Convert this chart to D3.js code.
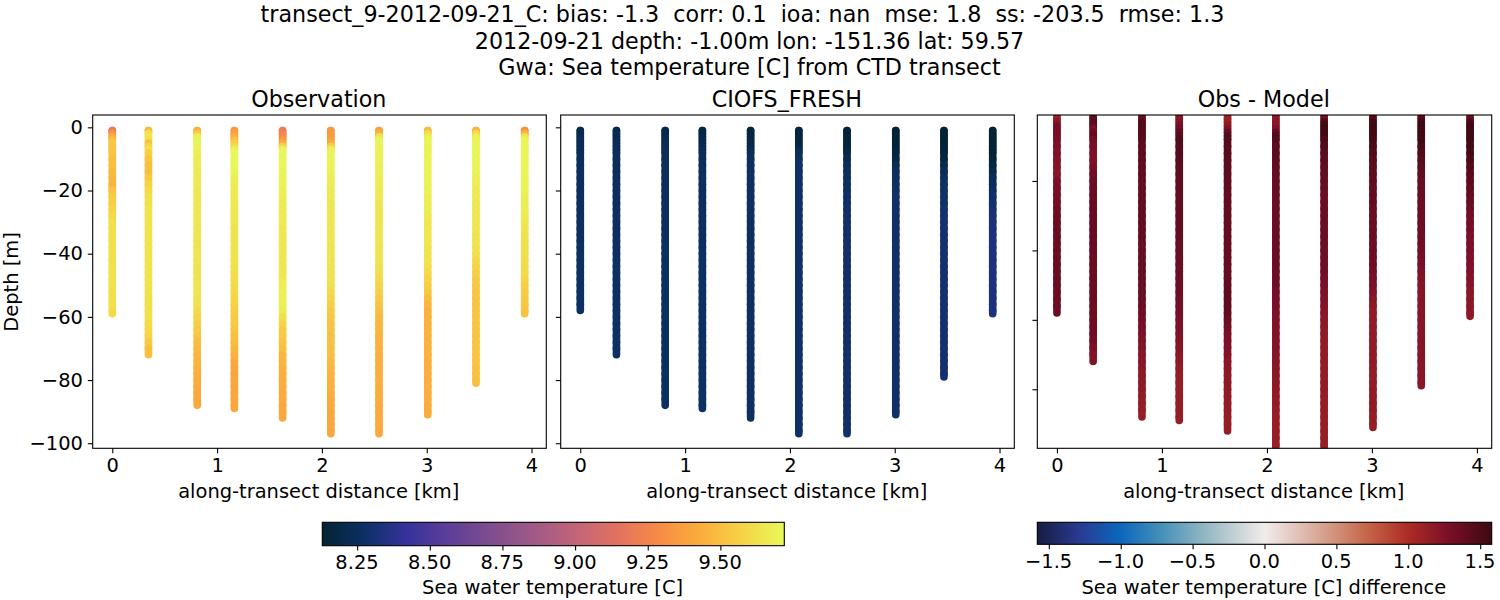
<!DOCTYPE html>
<html>
<head>
<meta charset="utf-8">
<script src="https://cdnjs.cloudflare.com/ajax/libs/d3/7.8.5/d3.min.js"></script>
<style>
  body { margin: 0; background: #fff; }
  text { font-family: "DejaVu Sans", sans-serif; fill: #000; }
</style>
</head>
<body>
<svg id="canvas" width="1500" height="600"></svg>
<script>
let titleLines = [
    "transect_9-2012-09-21_C: bias: -1.3  corr: 0.1  ioa: nan  mse: 1.8  ss: -203.5  rmse: 1.3",
    "2012-09-21 depth: -1.00m lon: -151.36 lat: 59.57",
    "Gwa: Sea temperature [C] from CTD transect"
]
let panelTitles = ["Observation", "CIOFS_FRESH", "Obs - Model"]

// along-transect distance of each station [km]
let stationKm = [0, 0.345, 0.81, 1.165, 1.625, 2.085, 2.545, 3.01, 3.47, 3.935]
let obsBottom = [59, 72, 88, 89, 92, 97, 97, 91, 81, 59]
let modelBottom = [58, 72, 88, 89, 92, 97, 97, 91, 79, 59]

// reading depths [m], the station bottom gets added per station
let readDepths = [1, 2, 3, 4, 5, 6, 7, 8, 10, 12, 14, 16, 18, 20, 22, 24, 26, 28, 30, 32, 34, 36, 38, 40,
    42, 44, 46, 48, 50, 52, 54, 56, 58, 60, 62, 64, 66, 68, 70, 72, 74, 76, 78, 80, 82, 84, 86, 88, 90, 92, 94, 96]

// temperature, one row per station
let obsTemp = [
    [8.95,9.2,9.32,9.42,9.5,9.53,9.53,9.52, 9.52,9.5,9.5,9.48,9.47,9.46,9.52,9.55,9.56,9.58, 9.6,9.62,9.62,9.63,9.63,9.63,9.63,9.63,9.63,9.64, 9.64,9.64,9.63,9.62,9.62, 9.6],
    [9.3,9.48,9.62,9.65,9.62,9.5,9.58,9.64, 9.56,9.52,9.5,9.5,9.54,9.58,9.6,9.62,9.63,9.64, 9.64,9.64,9.64,9.64,9.64,9.64,9.64,9.64,9.64,9.64, 9.64,9.64,9.63,9.63,9.62,9.62, 9.62,9.61,9.6,9.58,9.54,9.5],
    [9.42,9.45,9.55,9.68,9.7,9.7,9.7,9.7, 9.68,9.67,9.67,9.66,9.66,9.66,9.65,9.65,9.65,9.65, 9.65,9.65,9.65,9.64,9.64,9.64,9.64,9.64,9.64,9.64, 9.64,9.64,9.64,9.64,9.63,9.6,9.58,9.56,9.54,9.52, 9.5,9.48,9.47,9.46,9.45,9.44,9.43,9.42,9.41,9.41],
    [9.33,9.35,9.38,9.42,9.5,9.55,9.6,9.68, 9.71,9.71,9.71,9.7,9.68,9.67,9.66,9.66,9.65,9.65, 9.65,9.65,9.64,9.64,9.64,9.64,9.64,9.63,9.63,9.62, 9.62,9.61,9.6,9.58,9.57,9.56,9.55,9.54,9.52,9.5, 9.49,9.47,9.45,9.42,9.41,9.4,9.4,9.4,9.4,9.4, 9.4],
    [9.22,9.22,9.25,9.28,9.35,9.42,9.58,9.7, 9.71,9.71,9.71,9.7,9.7,9.69,9.68,9.67,9.66,9.66, 9.66,9.66,9.65,9.65,9.65,9.65,9.65,9.65,9.65,9.65, 9.66,9.67,9.68,9.68,9.68,9.67,9.62,9.58,9.55,9.54, 9.52,9.5,9.47,9.46,9.45,9.44,9.43,9.43,9.42,9.42, 9.41,9.41],
    [9.33,9.34,9.35,9.36,9.38,9.42,9.56,9.68, 9.7,9.7,9.7,9.69,9.68,9.67,9.66,9.66,9.65,9.65, 9.65,9.65,9.65,9.65,9.65,9.64,9.64,9.64,9.64,9.63, 9.63,9.62,9.6,9.58,9.56,9.54,9.53,9.52,9.52,9.51, 9.51,9.5,9.5,9.48,9.47,9.46,9.45,9.44,9.43,9.42, 9.42,9.41,9.41,9.41, 9.4],
    [9.35,9.38,9.45,9.64,9.7,9.7,9.7,9.7, 9.69,9.69,9.68,9.68,9.67,9.67,9.66,9.66,9.65,9.65, 9.65,9.65,9.65,9.65,9.65,9.64,9.64,9.64,9.63,9.62, 9.6,9.58,9.56,9.54,9.52,9.5,9.48,9.47,9.46,9.45, 9.45,9.44,9.44,9.44,9.44,9.44,9.44,9.43,9.43,9.43, 9.42,9.42,9.42,9.42, 9.41],
    [9.42,9.48,9.6,9.68,9.7,9.7,9.7,9.7, 9.7,9.7,9.7,9.7,9.7,9.69,9.69,9.68,9.68,9.67, 9.66,9.65,9.65,9.65,9.65,9.64,9.64,9.64,9.62,9.6, 9.58,9.56,9.54,9.5,9.47,9.45,9.45,9.45,9.45,9.45, 9.45,9.45,9.45,9.44,9.44,9.44,9.44,9.44,9.44,9.44, 9.43, 9.43],
    [9.38,9.45,9.6,9.68,9.7,9.7,9.7,9.7, 9.7,9.7,9.7,9.69,9.68,9.67,9.66,9.66,9.65,9.65, 9.65,9.65,9.65,9.64,9.64,9.63,9.62,9.6,9.58,9.56, 9.54,9.53,9.52,9.52,9.52,9.52,9.52,9.52,9.52,9.52, 9.52,9.52,9.52,9.52,9.51,9.51, 9.5],
    [9.25,9.3,9.45,9.64,9.7,9.7,9.7,9.7, 9.7,9.7,9.7,9.7,9.7,9.69,9.69,9.68,9.68,9.67, 9.66,9.65,9.64,9.63,9.62,9.62,9.62,9.61,9.6,9.6, 9.58,9.56,9.55,9.54,9.53, 9.52]
]

let modelTemp = [
    [8.19,8.2,8.21,8.22,8.23,8.23,8.24,8.24, 8.24,8.24,8.25,8.25,8.25,8.25,8.25,8.26,8.26,8.26, 8.26,8.26,8.26,8.26,8.26,8.27,8.27,8.27,8.27,8.27, 8.27,8.27,8.27,8.27,8.27],
    [8.19,8.2,8.21,8.22,8.22,8.23,8.23,8.24, 8.24,8.24,8.24,8.24,8.25,8.25,8.25,8.25,8.25,8.26, 8.26,8.26,8.26,8.26,8.26,8.26,8.26,8.27,8.27,8.27, 8.27,8.27,8.27,8.27,8.27,8.27, 8.27,8.27,8.27,8.27,8.27,8.27],
    [8.18,8.19,8.2,8.21,8.22,8.23,8.23,8.24, 8.24,8.25,8.25,8.25,8.25,8.25,8.26,8.26,8.26,8.26, 8.26,8.26,8.26,8.26,8.26,8.27,8.27,8.27,8.27,8.27, 8.27,8.27,8.27,8.27,8.27,8.27,8.27,8.27,8.27,8.27, 8.27,8.27,8.27,8.27,8.27,8.27,8.27,8.27,8.27,8.27],
    [8.16,8.17,8.18,8.19,8.2,8.21,8.22,8.23, 8.24,8.25,8.25,8.26,8.26,8.26,8.26,8.26,8.26,8.26, 8.26,8.26,8.26,8.26,8.26,8.27,8.27,8.27,8.27,8.27, 8.27,8.27,8.27,8.27,8.27,8.27,8.27,8.27,8.27,8.27, 8.27,8.27,8.27,8.27,8.27,8.27,8.27,8.27,8.27,8.27, 8.27],
    [8.15,8.16,8.16,8.17,8.18,8.19,8.2,8.22, 8.25,8.26,8.27,8.27,8.27,8.27,8.27,8.27,8.27,8.27, 8.27,8.26,8.26,8.26,8.26,8.27,8.27,8.27,8.27,8.27, 8.27,8.27,8.27,8.27,8.27,8.27,8.27,8.27,8.27,8.27, 8.27,8.27,8.27,8.27,8.27,8.27,8.27,8.27,8.27,8.27, 8.27,8.27],
    [8.15,8.15,8.16,8.16,8.17,8.17,8.18,8.2, 8.24,8.27,8.28,8.28,8.28,8.28,8.28,8.28,8.28,8.28, 8.28,8.28,8.28,8.28,8.28,8.28,8.28,8.28,8.28,8.28, 8.28,8.28,8.28,8.28,8.28,8.28,8.28,8.28,8.28,8.28, 8.28,8.28,8.28,8.28,8.28,8.28,8.28,8.28,8.28,8.28, 8.28,8.28,8.28,8.28, 8.28],
    [8.14,8.14,8.14,8.15,8.15,8.15,8.15,8.16, 8.19,8.22,8.25,8.26,8.27,8.28,8.28,8.28,8.29,8.29, 8.29,8.29,8.29,8.29,8.29,8.29,8.29,8.29,8.29,8.29, 8.29,8.29,8.29,8.29,8.29,8.29,8.29,8.29,8.29,8.29, 8.29,8.29,8.29,8.29,8.29,8.29,8.29,8.29,8.29,8.29, 8.29,8.29,8.29,8.29, 8.29],
    [8.14,8.14,8.14,8.14,8.14,8.14,8.14,8.15, 8.16,8.19,8.23,8.25,8.27,8.28,8.28,8.29,8.29,8.29, 8.29,8.29,8.29,8.29,8.29,8.29,8.29,8.29,8.29,8.29, 8.29,8.29,8.29,8.29,8.29,8.29,8.29,8.29,8.29,8.29, 8.29,8.29,8.29,8.29,8.29,8.29,8.29,8.29,8.29,8.29, 8.29, 8.29],
    [8.14,8.14,8.14,8.14,8.14,8.14,8.14,8.14, 8.15,8.18,8.21,8.24,8.26,8.28,8.29,8.29,8.29,8.3, 8.3,8.3,8.3,8.3,8.3,8.3,8.3,8.3,8.3,8.3, 8.3,8.3,8.3,8.3,8.3,8.3,8.3,8.3,8.3,8.3, 8.3,8.3,8.3,8.3,8.3, 8.3],
    [8.14,8.14,8.14,8.14,8.14,8.14,8.14,8.14, 8.14,8.15,8.17,8.2,8.23,8.25,8.27,8.28,8.3,8.31, 8.32,8.33,8.33,8.34,8.34,8.34,8.34,8.34,8.34,8.34, 8.34,8.34,8.34,8.34,8.34, 8.34]
]

let xTicks = [0, 1, 2, 3, 4]
let depthTicks = [0, -20, -40, -60, -80, -100]
let diffDepthTicks = [-20, -40, -60, -80]
let tempTicks = [8.25, 8.5, 8.75, 9, 9.25, 9.5]
let diffTicks = [-1.5, -1, -0.5, 0, 0.5, 1, 1.5]

let thermalColors = ["rgb(3,35,51)", "rgb(13,48,100)", "rgb(53,50,155)", "rgb(93,62,153)", "rgb(126,77,143)", "rgb(158,89,135)",
    "rgb(193,100,121)", "rgb(225,113,97)", "rgb(246,139,69)", "rgb(251,173,60)", "rgb(246,211,70)", "rgb(231,250,90)"]
let thermalOffsets = thermalColors.map((c, i) => i / 11)
let balanceColors = ["rgb(23,28,66)", "rgb(41,58,143)", "rgb(11,102,189)", "rgb(69,144,185)", "rgb(142,181,194)", "rgb(210,216,219)",
    "rgb(241,236,236)", "rgb(230,210,204)", "rgb(213,157,137)", "rgb(196,101,72)", "rgb(172,43,36)", "rgb(120,14,40)", "rgb(60,9,17)"]
// the pale middle colour sits halfway between the 6th and 7th of the eleven steps
let balanceOffsets = [0, 1 / 11, 2 / 11, 3 / 11, 4 / 11, 5 / 11, 0.5, 6 / 11, 7 / 11, 8 / 11, 9 / 11, 10 / 11, 1]

let tempRange = [8.13, 9.72]
let diffRange = [-1.58, 1.58]

let makeColor = (range, colors, offsets) => {
    let stops = offsets.map((t) => range[0] + (range[1] - range[0]) * t)
    return d3.scaleLinear().domain(stops).range(colors).clamp(true)
}
let tempColor = makeColor(tempRange, thermalColors, thermalOffsets)
let diffColor = makeColor(diffRange, balanceColors, balanceOffsets)

let canvas = d3.select("#canvas")

// depths of one station: the reading depths above the bottom, then the bottom
let depthsFor = (bottomDepth) => {
    let list = readDepths.filter((d) => d < bottomDepth)
    list.push(bottomDepth)
    return list
}

// each reading covers the stretch from the reading above it down to its own depth
let pointsFor = (bottoms, values) => {
    let points = []
    stationKm.forEach((km, s) => {
        let depths = depthsFor(bottoms[s])
        depths.forEach((d, i) => {
            points.push({km: km, from: depths[Math.max(i - 1, 0)], depth: d, value: values(s, d, i)})
        })
    })
    return points
}

let obsPoints = pointsFor(obsBottom, (s, d, i) => obsTemp[s][i])
let modelPoints = pointsFor(modelBottom, (s, d, i) => modelTemp[s][i])
let diffPoints = pointsFor(modelBottom, (s, d, i) => {
    let obsDepths = depthsFor(obsBottom[s])
    return obsTemp[s][d3.bisectLeft(obsDepths, d)] - modelTemp[s][i]
})

let plotTop = 115
let plotBottom = 448.3
let labelSize = '19.44px'
let titleSize = '22.22px'

let panels = [
    {left: 92.7, right: 546.3, points: obsPoints, color: tempColor, yDomain: [3.9, -101.6], yTicks: depthTicks, labels: true},
    {left: 560.7, right: 1014.3, points: modelPoints, color: tempColor, yDomain: [3.9, -101.6], yTicks: depthTicks, labels: false},
    {left: 1037.3, right: 1491.7, points: diffPoints, color: diffColor, yDomain: [-1, -97], yTicks: diffDepthTicks, labels: false}
]

let styleAxis = (g) => {
    g.selectAll('line').attr('stroke', '#000').attr('stroke-width', 1.1)
    g.selectAll('text').style('font-size', labelSize)
}

let drawPanel = (panel, i) => {
    let xScale = d3.scaleLinear().domain([-0.187, 4.141]).range([panel.left, panel.right])
    let yScale = d3.scaleLinear().domain(panel.yDomain).range([plotTop, plotBottom])
    let middle = (panel.left + panel.right) / 2 - 0.7

    canvas.append('clipPath')
            .attr('id', 'clip' + i)
            .append('rect')
            .attr('x', panel.left)
            .attr('y', plotTop)
            .attr('width', panel.right - panel.left)
            .attr('height', plotBottom - plotTop)

    canvas.append('g')
            .attr('clip-path', 'url(#clip' + i + ')')
            .selectAll('line')
            .data(panel.points)
            .enter()
            .append('line')
            .attr('x1', (p) => xScale(p.km))
            .attr('x2', (p) => xScale(p.km))
            .attr('y1', (p) => yScale(-p.from))
            .attr('y2', (p) => yScale(-p.depth))
            .attr('stroke', (p) => panel.color(p.value))
            .attr('stroke-width', 7.6)
            .attr('stroke-linecap', 'round')

    canvas.append('rect')
            .attr('x', panel.left)
            .attr('y', plotTop)
            .attr('width', panel.right - panel.left)
            .attr('height', plotBottom - plotTop)
            .attr('fill', 'none')
            .attr('stroke', '#000')
            .attr('stroke-width', 1.1)

    canvas.append('g')
            .attr('transform', 'translate(0,' + plotBottom + ')')
            .call(d3.axisBottom(xScale).tickValues(xTicks).tickFormat(d3.format('d')).tickSize(4.9).tickPadding(4.9))
            .call(styleAxis)
            .select('.domain').remove()

    let yAxis = d3.axisLeft(yScale).tickValues(panel.yTicks).tickSize(4.9).tickPadding(4.9)
    yAxis.tickFormat(panel.labels ? d3.format('d') : '')
    canvas.append('g')
            .attr('transform', 'translate(' + panel.left + ',0)')
            .call(yAxis)
            .call(styleAxis)
            .select('.domain').remove()

    canvas.append('text')
            .attr('x', middle)
            .attr('y', 106.7)
            .attr('text-anchor', 'middle')
            .style('font-size', titleSize)
            .text(panelTitles[i])

    canvas.append('text')
            .attr('x', middle)
            .attr('y', 497.5)
            .attr('text-anchor', 'middle')
            .style('font-size', labelSize)
            .text('along-transect distance [km]')
}

let drawColorbar = (left, right, y0, y1, range, colors, offsets, ticks, format, label) => {
    let id = 'grad' + Math.round(left)
    canvas.append('linearGradient')
            .attr('id', id)
            .selectAll('stop')
            .data(colors)
            .enter()
            .append('stop')
            .attr('offset', (c, i) => offsets[i])
            .attr('stop-color', (c) => c)

    canvas.append('rect')
            .attr('x', left)
            .attr('y', y0)
            .attr('width', right - left)
            .attr('height', y1 - y0)
            .attr('fill', 'url(#' + id + ')')
            .attr('stroke', '#000')
            .attr('stroke-width', 1.1)

    let xScale = d3.scaleLinear().domain(range).range([left, right])
    canvas.append('g')
            .attr('transform', 'translate(0,' + y1 + ')')
            .call(d3.axisBottom(xScale).tickValues(ticks).tickFormat(format).tickSize(4.9).tickPadding(4.9))
            .call(styleAxis)
            .call((g) => g.selectAll('text').attr('dx', -0.7))
            .select('.domain').remove()

    canvas.append('text')
            .attr('x', (left + right) / 2 - 0.7)
            .attr('y', 594)
            .attr('text-anchor', 'middle')
            .style('font-size', labelSize)
            .text(label)
}

titleLines.forEach((line, i) => {
    canvas.append('text')
            .attr('x', [742.5, 749.5, 749.5][i])
            .attr('y', [22, 48.7, 75.4][i])
            .attr('text-anchor', 'middle')
            .attr('xml:space', 'preserve')
            .style('white-space', 'pre')
            .style('font-size', titleSize)
            .text(line)
})

panels.forEach(drawPanel)

canvas.append('text')
        .attr('transform', 'translate(18,282) rotate(-90)')
        .attr('text-anchor', 'middle')
        .style('font-size', labelSize)
        .text('Depth [m]')

drawColorbar(322.3, 784.3, 522.3, 545.7, tempRange, thermalColors, thermalOffsets, tempTicks, d3.format('.2f'), 'Sea water temperature [C]')
drawColorbar(1037.3, 1491.7, 522.3, 544.3, diffRange, balanceColors, balanceOffsets, diffTicks, d3.format('.1f'), 'Sea water temperature [C] difference')
</script>
</body>
</html>
